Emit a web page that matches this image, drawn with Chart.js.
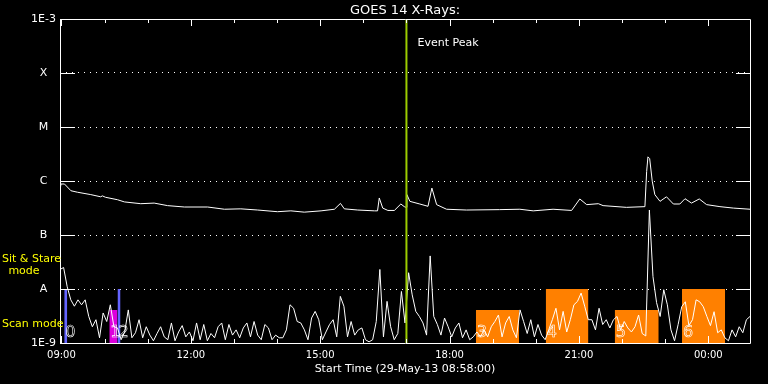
<!DOCTYPE html>
<html>
<head>
<meta charset="utf-8">
<title>GOES 14 X-Rays</title>
<script src="https://cdn.jsdelivr.net/npm/chart.js@4.4.1/dist/chart.umd.min.js"></script>
<style>
  html, body { margin: 0; padding: 0; background: #000; }
  canvas { display: block; }
</style>
</head>
<body>
<canvas id="chart" width="768" height="384"></canvas>
<script>
// time axis in hours of 29-May-13 (24 and up = next day)
const xStart = 8 + 58 / 60;   // 08:58
const xEnd = xStart + 16;
const xTicks = [9, 12, 15, 18, 21, 24];

const yTicks = [1e-9, 1e-8, 1e-7, 1e-6, 1e-5, 1e-4, 1e-3];
const yTickLabels = ['1E-9', 'A', 'B', 'C', 'M', 'X', '1E-3'];

// long channel
const longTimes = [
  8.967, 8.99, 9.07, 9.22, 9.37, 9.68, 9.91, 9.95, 10.02, 10.30,
  10.46, 10.84, 11.15, 11.46, 11.85, 12.39, 12.78, 13.16, 13.55, 14.01,
  14.32, 14.63, 15.02, 15.33, 15.47, 15.56, 15.87, 16.26, 16.33, 16.37,
  16.45, 16.57, 16.72, 16.87, 16.95, 16.99, 17.01, 17.08, 17.31, 17.50,
  17.59, 17.70, 17.93, 18.39, 19.16, 19.63, 19.94, 20.40, 20.83, 21.02,
  21.18, 21.45, 21.56, 22.10, 22.53, 22.57, 22.60, 22.64, 22.70, 22.76,
  22.88, 23.03, 23.19, 23.34, 23.46, 23.61, 23.79, 23.96, 24.27, 24.58,
  24.967
];
const longFlux = [
  6.9e-7, 8.8e-7, 8.8e-7, 6.6e-7, 6.2e-7, 5.6e-7, 5.1e-7, 5.3e-7, 5.0e-7, 4.5e-7,
  4.1e-7, 3.8e-7, 3.9e-7, 3.5e-7, 3.3e-7, 3.3e-7, 3.0e-7, 3.05e-7, 2.9e-7, 2.7e-7,
  2.8e-7, 2.65e-7, 2.8e-7, 3.0e-7, 3.85e-7, 3.05e-7, 2.9e-7, 2.8e-7, 2.8e-7, 4.85e-7,
  3.15e-7, 2.85e-7, 2.85e-7, 3.75e-7, 3.35e-7, 3.25e-7, 5.6e-7, 4.2e-7, 3.75e-7, 3.4e-7,
  7.4e-7, 3.65e-7, 3.0e-7, 2.9e-7, 2.95e-7, 3.0e-7, 2.8e-7, 3.0e-7, 2.85e-7, 4.65e-7,
  3.65e-7, 3.8e-7, 3.5e-7, 3.25e-7, 3.35e-7, 1.5e-6, 2.8e-6, 2.6e-6, 9.9e-7, 5.6e-7,
  4.2e-7, 5.1e-7, 3.75e-7, 3.75e-7, 4.7e-7, 3.9e-7, 4.65e-7, 3.65e-7, 3.35e-7, 3.15e-7,
  3.0e-7
];

// short channel, one reading every 5 min from 08:58 (one row per hour)
const shortStep = 5 / 60;
const shortFlux = [
  2.3e-8, 2.5e-8, 1.1e-8, 6.3e-9, 4.8e-9, 6.3e-9, 5.1e-9, 6.3e-9, 3.1e-9, 2.0e-9, 2.7e-9, 1.25e-9,
  3.6e-9, 2.5e-9, 5.1e-9, 2.0e-9, 1.9e-9, 1.15e-9, 1.6e-9, 4.1e-9, 1.25e-9, 1.55e-9, 2.7e-9, 1.25e-9,
  2.0e-9, 1.4e-9, 1.1e-9, 1.5e-9, 2.0e-9, 1.3e-9, 1.15e-9, 2.35e-9, 1.1e-9, 1.6e-9, 2.1e-9, 1.3e-9,
  1.6e-9, 1.1e-9, 2.35e-9, 1.15e-9, 2.2e-9, 1.1e-9, 1.5e-9, 1.25e-9, 2.0e-9, 2.35e-9, 1.15e-9, 2.2e-9,
  1.4e-9, 1.75e-9, 1.25e-9, 1.9e-9, 2.35e-9, 1.3e-9, 2.5e-9, 1.4e-9, 1.15e-9, 2.2e-9, 1.9e-9, 1.15e-9,
  1.4e-9, 1.25e-9, 1.25e-9, 1.75e-9, 5.1e-9, 4.4e-9, 2.5e-9, 2.35e-9, 1.75e-9, 1.15e-9, 2.9e-9, 3.85e-9,
  2.7e-9, 1.15e-9, 1.6e-9, 2.2e-9, 2.7e-9, 1.3e-9, 7.3e-9, 4.8e-9, 1.3e-9, 2.5e-9, 1.4e-9, 1.75e-9,
  1.9e-9, 1.15e-9, 1.05e-9, 1.15e-9, 2.5e-9, 2.3e-8, 1.3e-9, 5.9e-9, 2.0e-9, 1.15e-9, 1.5e-9, 9.0e-9,
  2.35e-9, 2.0e-8, 7.8e-9, 3.85e-9, 3.1e-9, 2.35e-9, 1.4e-9, 4.1e-8, 3.1e-9, 2.2e-9, 1.4e-9, 2.9e-9,
  2.0e-9, 1.3e-9, 1.9e-9, 2.35e-9, 1.25e-9, 1.75e-9, 1.15e-9, 1.3e-9, 1.6e-9, 1.3e-9, 1.75e-9, 1.3e-9,
  2.0e-9, 2.5e-9, 3.3e-9, 1.3e-9, 2.35e-9, 3.1e-9, 1.75e-9, 1.25e-9, 4.1e-9, 2.5e-9, 1.5e-9, 2.7e-9,
  1.3e-9, 2.2e-9, 1.4e-9, 1.15e-9, 1.75e-9, 2.7e-9, 4.4e-9, 1.75e-9, 3.85e-9, 1.6e-9, 2.7e-9, 5.1e-9,
  5.9e-9, 8.4e-9, 4.8e-9, 2.7e-9, 2.7e-9, 1.75e-9, 4.4e-9, 2.2e-9, 2.7e-9, 1.9e-9, 2.7e-9, 3.1e-9,
  1.75e-9, 2.5e-9, 1.9e-9, 1.6e-9, 2.0e-9, 3.3e-9, 1.5e-9, 1.35e-9, 2.9e-7, 1.7e-8, 5.6e-9, 3.1e-9,
  9.7e-9, 5.1e-9, 1.75e-9, 1.1e-9, 2.2e-9, 4.7e-9, 5.8e-9, 2.1e-9, 2.7e-9, 6.3e-9, 5.8e-9, 4.7e-9,
  3.1e-9, 2.1e-9, 3.8e-9, 1.55e-9, 1.75e-9, 1.25e-9, 1.1e-9, 1.75e-9, 1.3e-9, 2.0e-9, 1.55e-9, 2.7e-9,
  3.1e-9
];

const eventPeak = 17.0;

// observing mode blocks
const scanStart = [18.61, 20.23, 21.83, 23.39];
const scanEnd = [19.61, 21.22, 22.85, 24.39];
const scanTop = [4.1e-9, 1e-8, 4.1e-9, 1e-8];
const pinkStart = [10.11];
const pinkEnd = [10.30];
const pinkTop = [4.1e-9];
const blueStart = [9.065, 10.30];
const blueEnd = [9.135, 10.37];
const blueTop = [1e-8, 1e-8];

const markTimes = [9.065, 10.11, 10.30, 18.61, 20.23, 21.83, 23.39];
const markLabels = ['0', '1', '2', '3', '4', '5', '6'];

Chart.defaults.font.family = '"DejaVu Sans", sans-serif';
Chart.defaults.color = '#fff';

function blocks(starts, ends, tops, color) {
  return starts.map((s, i) => ({
    data: [{ x: s, y: tops[i] }, { x: ends[i], y: tops[i] }],
    borderColor: 'rgba(0,0,0,0)',
    borderWidth: 0,
    backgroundColor: color,
    fill: 'start',
    pointRadius: 0
  }));
}

const datasets = [
  {
    data: [{ x: eventPeak, y: 1e-9 }, { x: eventPeak, y: 1e-3 }],
    borderColor: '#9ccc00', borderWidth: 2, pointRadius: 0
  },
  {
    data: shortFlux.map((y, i) => ({ x: xStart + i * shortStep, y })),
    borderColor: '#fff', borderWidth: 1, pointRadius: 0, tension: 0
  },
  {
    data: longTimes.map((x, i) => ({ x, y: longFlux[i] })),
    borderColor: '#fff', borderWidth: 1, pointRadius: 0, tension: 0
  },
  ...blocks(blueStart, blueEnd, blueTop, '#6464ff'),
  ...blocks(pinkStart, pinkEnd, pinkTop, '#dd00dd'),
  ...blocks(scanStart, scanEnd, scanTop, '#ff8000')
];

// box, inward ticks and the labels IDL puts on the plot
const frame = {
  id: 'frame',
  afterDatasetsDraw(chart) {
    const { ctx, chartArea: a, scales: { x, y } } = chart;
    ctx.save();
    ctx.strokeStyle = '#fff';
    ctx.lineWidth = 1;
    ctx.beginPath();
    ctx.rect(a.left + 0.5, a.top + 0.5, a.right - a.left, a.bottom - a.top);
    for (let h = 9; h <= 24; h++) {
      const px = Math.round(x.getPixelForValue(h)) + 0.5;
      const len = h % 3 === 0 ? 7 : 4;
      ctx.moveTo(px, a.top); ctx.lineTo(px, a.top + len);
      ctx.moveTo(px, a.bottom); ctx.lineTo(px, a.bottom - len);
    }
    yTicks.forEach(v => {
      const py = Math.round(y.getPixelForValue(v)) + 0.5;
      ctx.moveTo(a.left, py); ctx.lineTo(a.left + 15, py);
      ctx.moveTo(a.right - 14, py); ctx.lineTo(a.right, py);
    });
    ctx.stroke();

    ctx.fillStyle = '#fff';
    ctx.font = '11px "DejaVu Sans"';
    ctx.textBaseline = 'middle';
    ctx.textAlign = 'left';
    ctx.fillText('Event Peak', x.getPixelForValue(eventPeak) + 11, a.top + 24);

    // hollow block numbers
    ctx.font = '16px "DejaVu Sans"';
    ctx.lineWidth = 0.6;
    markTimes.forEach((t, i) => {
      ctx.strokeText(markLabels[i], x.getPixelForValue(t) + 1, a.bottom - 10);
    });

    ctx.fillStyle = '#ffff00';
    ctx.font = '11px "DejaVu Sans"';
    ctx.fillText('Sit & Stare', 2, 259);
    ctx.fillText('Scan mode', 2, 324);
    ctx.textAlign = 'center';
    ctx.fillText('mode', 24, 271);
    ctx.restore();
  }
};

new Chart(document.getElementById('chart'), {
  type: 'line',
  data: { datasets },
  options: {
    responsive: false,
    devicePixelRatio: 1,
    animation: false,
    events: [],
    layout: { padding: { left: 0, right: 18, top: 0, bottom: 0 } },
    plugins: {
      legend: { display: false },
      tooltip: { enabled: false },
      title: {
        display: true,
        text: 'GOES 14 X-Rays:',
        color: '#fff',
        fullSize: false,
        font: { size: 13, weight: 'normal', lineHeight: 1 },
        padding: { top: 4, bottom: 2 }
      }
    },
    scales: {
      x: {
        type: 'linear',
        min: xStart,
        max: xEnd,
        afterBuildTicks: s => { s.ticks = xTicks.map(v => ({ value: v })); },
        afterFit: s => { s.height = 41; },
        grid: { display: false, drawTicks: false },
        border: { display: false },
        ticks: {
          font: { size: 10 },
          padding: 6,
          maxRotation: 0,
          autoSkip: false,
          callback: v => String(v % 24).padStart(2, '0') + ':00'
        },
        title: {
          display: true,
          text: 'Start Time (29-May-13 08:58:00)',
          color: '#fff',
          font: { size: 11 },
          padding: { top: 0, bottom: 8 }
        }
      },
      y: {
        type: 'logarithmic',
        min: 1e-9,
        max: 1e-3,
        afterBuildTicks: s => { s.ticks = yTicks.map(v => ({ value: v })); },
        afterFit: s => { s.width = 60; },
        grid: {
          drawTicks: false,
          color: c => (c.index === 0 || c.index === yTicks.length - 1) ? 'rgba(0,0,0,0)' : '#fff'
        },
        border: { display: false, dash: [1, 5] },
        ticks: {
          font: { size: 11 },
          padding: 4,
          crossAlign: 'center',
          autoSkip: false,
          callback: (v, i) => yTickLabels[i]
        }
      }
    }
  },
  plugins: [frame]
});
</script>
</body>
</html>
